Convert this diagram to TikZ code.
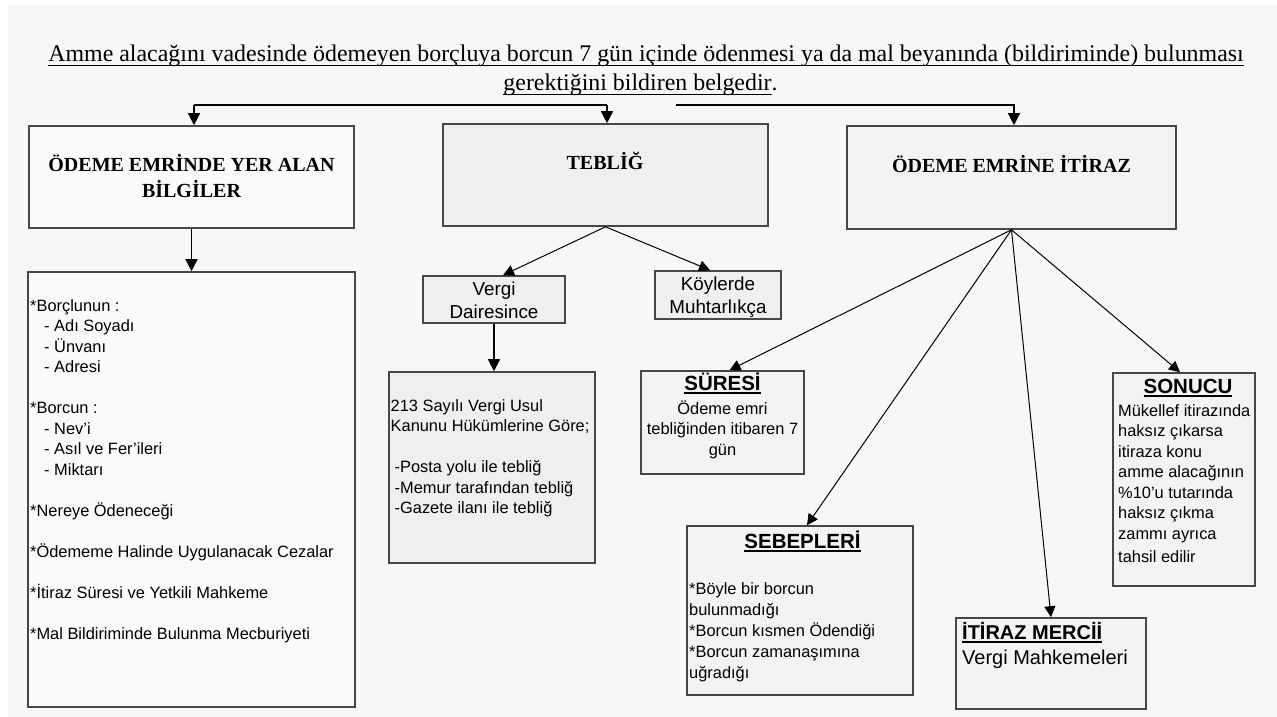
\documentclass[tikz,border=0pt]{standalone}
\usepackage{fontspec}
\setmainfont{Liberation Serif}
\setsansfont{Liberation Sans}
\usetikzlibrary{arrows.meta,calc}
\definecolor{bg}{HTML}{F7F7F7}
\definecolor{bord}{HTML}{474747}
\definecolor{fillA}{HTML}{FAFAFA}
\definecolor{fillB}{HTML}{EFEFEF}
\definecolor{fillC}{HTML}{F3F3F3}
\newcommand\ulx[1]{\setbox0=\hbox{#1}\rlap{\copy0}\rule[-3.6pt]{\wd0}{1.8pt}}
\newcommand\tulx[1]{\setbox0=\hbox{#1}\rlap{\copy0}\rule[-4.2pt]{\wd0}{1.3pt}}
\tikzset{
  box/.style={draw=bord, line width=1.6pt, inner sep=0pt, rectangle},
  conn/.style={line width=1pt, -{Triangle[width=11pt,length=11pt]}},
  connb/.style={line width=1.4pt, -{Triangle[width=12pt,length=12pt]}},
  plain/.style={line width=1.4pt},
  sftxt/.style={font=\sffamily\fontsize{16.4}{20.5}\selectfont, inner sep=0pt},
  sfhead/.style={font=\sffamily\bfseries\fontsize{20.5}{24}\selectfont, inner sep=0pt},
  serhead/.style={font=\bfseries\fontsize{20}{25.6}\selectfont, inner sep=0pt, align=center},
  bigsf/.style={font=\sffamily\fontsize{18.8}{23.5}\selectfont, inner sep=0pt, align=center},
  titletxt/.style={font=\fontsize{23.9}{29}\selectfont, inner sep=0pt}
}
\begin{document}
\begin{tikzpicture}[x=1pt,y=-1pt]
\useasboundingbox (0,0) rectangle (1277,717);
\fill[white] (0,0) rectangle (1277,717);
\fill[bg] (8,5) rectangle (1277,717);

% title
\node[titletxt, anchor=base] (title1) at (646,62) {\tulx{Amme alacağını vadesinde ödemeyen borçluya borcun 7 gün içinde ödenmesi ya da mal beyanında (bildiriminde) bulunması}};
\node[titletxt, anchor=base] (title2) at (640.5,91) {\tulx{gerektiğini bildiren belgedir}.};

% boxes
\node[box, fill=fillA, minimum width=325pt, minimum height=102pt] (A) at (191.5,177) {};
\node[box, fill=fillA, minimum width=327pt, minimum height=435pt] (L) at (191.5,489.5) {};
\node[box, fill=fillB, minimum width=325pt, minimum height=102pt] (T) at (605.5,175) {};
\node[box, fill=fillB, minimum width=142pt, minimum height=47pt] (VD) at (494,299.5) {};
\node[box, fill=fillB, minimum width=126pt, minimum height=48pt] (K) at (718,295) {};
\node[box, fill=fillB, minimum width=206pt, minimum height=191pt] (V) at (492,467.5) {};
\node[box, fill=fillC, minimum width=329pt, minimum height=103pt] (I) at (1011.5,177.5) {};
\node[box, fill=fillC, minimum width=163pt, minimum height=103pt] (S) at (722.5,422.5) {};
\node[box, fill=fillC, minimum width=226pt, minimum height=169pt] (SB) at (800,610.5) {};
\node[box, fill=fillC, minimum width=190pt, minimum height=91pt] (M) at (1051,663.5) {};
\node[box, fill=fillC, minimum width=142pt, minimum height=213pt] (SN) at (1184,479.5) {};

% headers
\node[serhead, anchor=north] (At) at (191.5,153.8) {\strut ÖDEME EMRİNDE YER ALAN\\BİLGİLER};
\node[serhead, anchor=base] (Tt) at (605,169.3) {TEBLİĞ};
\node[serhead, anchor=base] (It) at (1011.5,172.3) {ÖDEME EMRİNE İTİRAZ};

% list text
\node[sftxt, anchor=north west, align=left] (Lt) at (30,296.65) {\strut*Borçlunun :\\
\hspace*{14pt}- Adı Soyadı\\
\hspace*{14pt}- Ünvanı\\
\hspace*{14pt}- Adresi\\[20.5pt]
*Borcun :\\
\hspace*{14pt}- Nev'i\\
\hspace*{14pt}- Asıl ve Fer'ileri\\
\hspace*{14pt}- Miktarı\\[20.5pt]
*Nereye Ödeneceği\\[20.5pt]
*Ödememe Halinde Uygulanacak Cezalar\\[20.5pt]
*İtiraz Süresi ve Yetkili Mahkeme\\[20.5pt]
*Mal Bildiriminde Bulunma Mecburiyeti};

\node[bigsf, anchor=north] (VDt) at (494,278.55) {\strut Vergi\\Dairesince};
\node[bigsf, anchor=north] (Kt) at (718,273.55) {\strut Köylerde\\Muhtarlıkça};

\node[sftxt, anchor=north west, align=left] (Vt) at (390.5,396.65) {\strut 213 Sayılı Vergi Usul\\
Kanunu Hükümlerine Göre;\\[20.5pt]
\hspace*{4pt}-Posta yolu ile tebliğ\\
\hspace*{4pt}-Memur tarafından tebliğ\\
\hspace*{4pt}-Gazete ilanı ile tebliğ};

% SÜRESİ
\node[sfhead, anchor=base] (St) at (722.5,390.5) {\ulx{SÜRESİ}};
\node[sftxt, anchor=north, align=center] (Sb) at (722.5,399.65) {\strut Ödeme emri\\tebliğinden itibaren 7\\gün};

% SEBEPLERİ
\node[sfhead, anchor=base] (SBt) at (802.5,548.5) {\ulx{SEBEPLERİ}};
\node[sftxt, font=\sffamily\fontsize{16.4}{21}\selectfont, anchor=north west, align=left] (SBb) at (689,579.3) {\strut*Böyle bir borcun\\bulunmadığı\\*Borcun kısmen Ödendiği\\*Borcun zamanaşımına\\uğradığı};

% İTİRAZ MERCİİ
\node[sfhead, font=\sffamily\bfseries\fontsize{20}{24}\selectfont, anchor=base west] (Mt) at (962,639) {\ulx{İTİRAZ MERCİİ}};
\node[font=\sffamily\fontsize{20}{24}\selectfont, inner sep=0pt, anchor=base west] (Mb) at (962,664) {Vergi Mahkemeleri};

% SONUCU
\node[sfhead, anchor=base] (SNt) at (1188,393.5) {\ulx{SONUCU}};
\node[sftxt, anchor=north west, align=left] (SNb) at (1118,401.65) {\strut Mükellef itirazında\\haksız çıkarsa\\itiraza konu\\amme alacağının\\\%10'u tutarında\\haksız çıkma\\zammı ayrıca\\[3pt]tahsil edilir};

% connectors
\coordinate (c1) at (194,105);
\coordinate (c2) at (607,105);
\coordinate (c3) at (676,105);
\coordinate (c4) at (1014,105);
\draw[plain] (c2) -- (c1);
\draw[connb] (c1) -- (c1 |- A.north);
\draw[connb] (c2) -- (c2 |- T.north);
\draw[connb] (c3) -- (c4) -- (c4 |- I.north);
\draw[connb] (A.south) -- (L.north);
\draw[conn] (T.south) -- ([xshift=9pt]VD.north);
\draw[conn] (T.south) -- ([xshift=-8pt]K.north);
\draw[connb] (VD.south) -- (VD.south |- V.north);
\draw[conn] (I.south) -- ([xshift=7pt]S.north);
\draw[conn] (I.south) -- ([xshift=7pt]SB.north);
\draw[conn] (I.south) -- (M.north);
\draw[conn] (I.south) -- ([xshift=-4pt]SN.north);
\end{tikzpicture}
\end{document}
